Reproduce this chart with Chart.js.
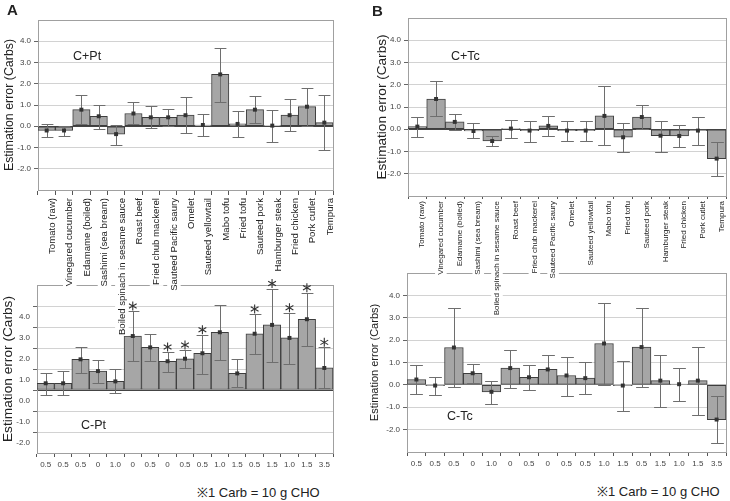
<!DOCTYPE html>
<html>
<head>
<meta charset="utf-8">
<script src="https://cdn.jsdelivr.net/npm/chart.js@4"></script>
<style>
  body { margin: 0; background: #fff; font-family: "Liberation Sans", Arial, sans-serif; }
  #wrap { position: relative; width: 730px; height: 501px; overflow: hidden; }
  canvas { position: absolute; }
  .txt { position: absolute; line-height: 1; color: #222; white-space: nowrap; }
</style>
</head>
<body>
<div id="wrap">
  <canvas id="aBottom" width="345" height="210" style="left:0;top:270px;z-index:1"></canvas>
  <canvas id="aTop" width="345" height="360" style="left:0;top:0;z-index:2"></canvas>
  <canvas id="bBottom" width="365" height="220" style="left:365px;top:260px;z-index:1"></canvas>
  <canvas id="bTop" width="365" height="345" style="left:365px;top:0;z-index:2"></canvas>

  <div class="txt" style="left:7px;top:2px;font-size:15px;font-weight:bold;z-index:3">A</div>
  <div class="txt" style="left:372px;top:3px;font-size:15px;font-weight:bold;z-index:3">B</div>
  <div class="txt" style="left:73px;top:50px;font-size:12.5px;z-index:3">C+Pt</div>
  <div class="txt" style="left:451px;top:50px;font-size:12.5px;z-index:3">C+Tc</div>
  <div class="txt" style="left:81px;top:419px;font-size:12.5px;z-index:3">C-Pt</div>
  <div class="txt" style="left:447px;top:410px;font-size:12.5px;z-index:3">C-Tc</div>
  <div class="txt" style="left:197px;top:486px;font-size:13px;z-index:3">※1 Carb = 10 g CHO</div>
  <div class="txt" style="left:597px;top:485px;font-size:13px;z-index:3">※1 Carb = 10 g CHO</div>
</div>

<script>
// Food items (x categories) and their carb content in Carbs
const foods = ['Tomato (raw)', 'Vinegared cucumber', 'Edamame (boiled)', 'Sashimi (sea bream)',
    'Boiled spinach in sesame sauce', 'Roast beef', 'Fried chub mackerel', 'Sauteed Pacific saury',
    'Omelet', 'Sauteed yellowtail', 'Mabo tofu', 'Fried tofu', 'Sauteed pork', 'Hamburger steak',
    'Fried chicken', 'Pork cutlet', 'Tempura'];
const carbContent = ['0.5', '0.5', '0.5', '0', '1.0', '0', '0.5', '0', '0.5', '0.5', '1.0', '1.5', '0.5', '1.5', '1.0', '1.5', '3.5'];

// C+Pt
const cPlusPtMean = [-0.2, -0.2, 0.78, 0.47, -0.37, 0.6, 0.42, 0.42, 0.52, 0.06, 2.44, 0.11, 0.78, 0.03, 0.52, 0.92, 0.17];
const cPlusPtHigh = [0.1, 0.03, 1.45, 1.02, 0.06, 1.12, 0.94, 0.81, 1.38, 0.56, 3.7, 0.7, 1.41, 0.78, 1.28, 1.8, 1.45];
const cPlusPtLow = [-0.5, -0.45, 0.1, -0.12, -0.86, 0.1, -0.1, 0.03, -0.31, -0.44, 1.14, -0.52, 0.16, -0.73, -0.22, 0.03, -1.1];

// C-Pt
const cMinusPtMean = [0.32, 0.32, 1.46, 0.9, 0.41, 2.57, 2.03, 1.37, 1.49, 1.75, 2.75, 0.79, 2.68, 3.1, 2.48, 3.37, 1.05];
const cMinusPtHigh = [0.83, 0.92, 2.03, 1.41, 0.98, 3.76, 2.67, 1.81, 1.9, 2.63, 4.06, 1.46, 3.62, 4.83, 3.68, 4.63, 2.03];
const cMinusPtLow = [-0.22, -0.25, 0.83, 0.35, -0.13, 1.37, 1.37, 0.87, 1.06, 0.78, 1.41, 0.16, 1.73, 1.35, 1.25, 2.11, 0.11];
const cMinusPtSig = [0, 0, 0, 0, 0, 1, 0, 1, 1, 1, 0, 0, 1, 1, 1, 1, 1];

// C+Tc
const cPlusTcMean = [0.12, 1.36, 0.33, -0.08, -0.53, 0.03, -0.06, 0.15, -0.06, -0.06, 0.6, -0.36, 0.55, -0.29, -0.3, -0.06, -1.32];
const cPlusTcHigh = [0.56, 2.17, 0.68, 0.26, -0.32, 0.42, 0.39, 0.6, 0.39, 0.39, 1.94, 0.26, 1.09, 0.39, 0.18, 0.56, -0.58];
const cPlusTcLow = [-0.35, 0.58, -0.03, -0.41, -0.77, -0.41, -0.56, -0.32, -0.52, -0.52, -0.7, -1.0, 0, -1.0, -0.8, -0.7, -2.09];

// C-Tc
const cMinusTcMean = [0.24, -0.03, 1.67, 0.52, -0.31, 0.75, 0.34, 0.69, 0.42, 0.3, 1.85, -0.03, 1.69, 0.19, 0.03, 0.19, -1.55];
const cMinusTcHigh = [0.9, 0.34, 3.43, 0.93, 0.19, 1.55, 0.9, 1.34, 1.25, 1.01, 3.67, 1.06, 3.43, 1.34, 0.75, 1.69, -0.51];
const cMinusTcLow = [-0.42, -0.45, -0.1, 0.09, -0.87, -0.13, -0.24, 0.03, -0.51, -0.42, 0, -1.16, -0.09, -1.0, -0.72, -1.34, -2.61];

const yTitle = 'Estimation error (Carbs)';

Chart.defaults.font.family = '"Liberation Sans", Arial, sans-serif';
Chart.defaults.animation = false;

// box around the plot area
const boxPlugin = {
    id: 'box',
    beforeDatasetsDraw(chart) {
        const a = chart.chartArea, ctx = chart.ctx;
        ctx.save();
        ctx.strokeStyle = '#a0a0a0';
        ctx.lineWidth = 1;
        ctx.strokeRect(Math.round(a.left) + 0.5, Math.round(a.top) + 0.5,
            Math.round(a.right - a.left), Math.round(a.bottom - a.top));
        ctx.restore();
    }
};

// error bars (drawn right after the bars, under the markers) and asterisks
function extrasPlugin(low, high, sig) {
    return {
        id: 'extras',
        afterDatasetDraw(chart, args) {
            if (args.index !== 0) return;
            const xs = chart.scales.x, ys = chart.scales.y, ctx = chart.ctx;
            const cap = xs.width / foods.length * 0.34;
            ctx.save();
            ctx.strokeStyle = '#6e6e6e';
            ctx.lineWidth = 1;
            low.forEach((lo, i) => {
                const px = Math.round(xs.getPixelForValue(i)) + 0.5;
                const yLo = Math.round(ys.getPixelForValue(lo)) + 0.5;
                const yHi = Math.round(ys.getPixelForValue(high[i])) + 0.5;
                ctx.beginPath();
                ctx.moveTo(px, yLo); ctx.lineTo(px, yHi);
                ctx.moveTo(px - cap, yLo); ctx.lineTo(px + cap, yLo);
                ctx.moveTo(px - cap, yHi); ctx.lineTo(px + cap, yHi);
                ctx.stroke();
            });
            ctx.restore();
        },
        afterDatasetsDraw(chart) {
            if (!sig) return;
            const xs = chart.scales.x, ys = chart.scales.y, ctx = chart.ctx;
            ctx.save();
            ctx.strokeStyle = '#333';
            ctx.lineWidth = 1.1;
            sig.forEach((s, i) => {
                if (!s) return;
                const cx = xs.getPixelForValue(i);
                const cy = ys.getPixelForValue(high[i]) - 5;
                const r = 4.5;
                ctx.beginPath();
                [90, 30, 150].forEach(deg => {
                    const t = deg * Math.PI / 180;
                    ctx.moveTo(cx - r * Math.cos(t), cy - r * Math.sin(t));
                    ctx.lineTo(cx + r * Math.cos(t), cy + r * Math.sin(t));
                });
                ctx.stroke();
            });
            ctx.restore();
        }
    };
}

function makeChart(id, mean, low, high, sig, cfg) {
    const ctx = document.getElementById(id).getContext('2d');
    return new Chart(ctx, {
        type: 'bar',
        data: {
            labels: foods,
            datasets: [{
                data: mean,
                backgroundColor: '#a6a6a6',
                borderColor: '#3d3d3d',
                borderWidth: 1,
                borderSkipped: false,
                barPercentage: 1,
                categoryPercentage: 1,
                order: 2
            }, {
                type: 'line',
                data: mean,
                showLine: false,
                pointStyle: 'rect',
                pointRadius: 2.8,
                pointBackgroundColor: '#333',
                pointBorderWidth: 0,
                order: 1
            }]
        },
        options: {
            responsive: false,
            devicePixelRatio: 1,
            layout: { padding: cfg.padding },
            plugins: { legend: { display: false }, tooltip: { enabled: false } },
            scales: {
                x: {
                    grid: { drawOnChartArea: false, tickLength: cfg.xTick, tickColor: '#555' },
                    border: { color: '#888' },
                    ticks: cfg.xTicks,
                    afterFit: axis => { axis.height = cfg.xHeight; }
                },
                y: {
                    min: -3,
                    max: 5,
                    afterBuildTicks: axis => { axis.ticks = axis.ticks.filter(t => t.value > -3 && t.value < 5); },
                    grid: {
                        color: c => c.tick && c.tick.value === 0 ? cfg.zeroColor : '#d2d2d2',
                        tickLength: 4,
                        tickColor: '#666'
                    },
                    border: { color: '#888' },
                    ticks: {
                        stepSize: 1,
                        font: { size: 8 },
                        color: '#444',
                        padding: 3,
                        labelOffset: cfg.yLabelOffset || 0,
                        callback: v => v.toFixed(1)
                    },
                    title: {
                        display: true,
                        text: yTitle,
                        color: '#222',
                        font: { size: cfg.titleSize },
                        padding: { top: cfg.titlePad, bottom: 0 }
                    },
                    afterFit: axis => { axis.width = cfg.yWidth; }
                }
            }
        },
        plugins: [boxPlugin, extrasPlugin(low, high, sig)]
    });
}

// top charts: food names as rotated labels with a white backdrop over the chart below
const foodTicksA = {
    autoSkip: false, minRotation: 90, maxRotation: 90, padding: 3,
    font: { size: 9.6 }, color: '#222',
    showLabelBackdrop: true, backdropColor: '#fff', backdropPadding: 1
};
const foodTicksB = Object.assign({}, foodTicksA, { font: { size: 8 }, padding: 2 });
const carbTicks = {
    autoSkip: false, maxRotation: 0, font: { size: 8 }, color: '#444', padding: 3,
    callback: (v, i) => carbContent[i]
};

makeChart('aBottom', cMinusPtMean, cMinusPtLow, cMinusPtHigh, cMinusPtSig, {
    padding: { top: 15, right: 12, left: 0, bottom: 0 }, xHeight: 27, xTick: 4, xTicks: carbTicks,
    yWidth: 37, titleSize: 13.7, titlePad: 0, zeroColor: '#444', yLabelOffset: 11
});
makeChart('aTop', cPlusPtMean, cPlusPtLow, cPlusPtHigh, null, {
    padding: { top: 20, right: 12, left: 0, bottom: 0 }, xHeight: 170, xTick: 5, xTicks: foodTicksA,
    yWidth: 38, titleSize: 12.4, titlePad: 2.6, zeroColor: '#444'
});
makeChart('bBottom', cMinusTcMean, cMinusTcLow, cMinusTcHigh, null, {
    padding: { top: 13, right: 2, left: 0, bottom: 0 }, xHeight: 28, xTick: 4, xTicks: carbTicks,
    yWidth: 42, titleSize: 11, titlePad: 3.4, zeroColor: '#bbb'
});
makeChart('bTop', cPlusTcMean, cPlusTcLow, cPlusTcHigh, null, {
    padding: { top: 18, right: 2, left: 0, bottom: 0 }, xHeight: 149, xTick: 3, xTicks: foodTicksB,
    yWidth: 43, titleSize: 13.6, titlePad: 9, zeroColor: '#444'
});
</script>
</body>
</html>
